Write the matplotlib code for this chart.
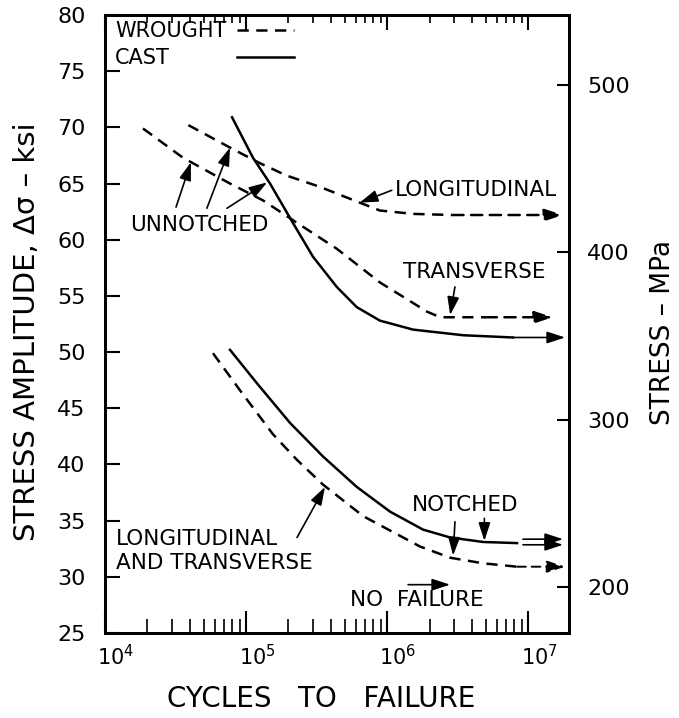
import matplotlib.pyplot as plt
import matplotlib.transforms as mtransforms
from matplotlib.lines import Line2D
from matplotlib.ticker import FixedLocator, LogLocator, NullFormatter, NullLocator

# fatigue curves, cycles vs stress amplitude (ksi)
# unnotched, wrought, longitudinal (dashed)
wl_n = [3.9e4, 7.7e4, 1.26e5, 1.95e5, 3.35e5, 6.4e5, 8.9e5, 1.53e6, 2.9e6]
wl_s = [70.2, 68.2, 66.8, 65.7, 64.7, 63.3, 62.6, 62.3, 62.2]
wl_tip = 1.77e7

# unnotched, wrought, transverse (dashed)
wt_n = [1.86e4, 3.57e4, 7.7e4, 1.32e5, 2.3e5, 4.4e5, 8.9e5, 1.92e6, 2.38e6, 5.0e6]
wt_s = [69.9, 67.3, 65.0, 63.5, 61.5, 59.2, 56.2, 53.6, 53.1, 53.1]
wt_tip = 1.5e7

# unnotched, cast (solid)
cu_n = [7.96e4, 1.12e5, 1.48e5, 2.15e5, 2.98e5, 4.4e5, 6.1e5, 8.9e5, 1.53e6, 3.46e6, 7.8e6]
cu_s = [70.9, 67.3, 65.0, 61.5, 58.5, 55.8, 54.0, 52.8, 52.0, 51.5, 51.3]
cu_tip = 1.83e7

# notched, wrought (dashed)
wn_n = [5.83e4, 9.06e4, 1.55e5, 2.3e5, 3.52e5, 6.77e5, 1.71e6, 2.8e6, 4.8e6, 8.35e6]
wn_s = [49.9, 46.6, 42.7, 40.4, 38.2, 35.4, 32.7, 31.7, 31.2, 30.9]
wn_tip = 1.83e7

# notched, cast (solid) + double run-out arrow
cn_n = [7.7e4, 1.2e5, 2.05e5, 3.52e5, 6.1e5, 1.05e6, 1.8e6, 2.8e6, 4.8e6, 8.35e6]
cn_s = [50.2, 47.2, 43.7, 40.7, 38.0, 35.8, 34.2, 33.5, 33.1, 33.0]
cn_run_n = [9.2e6, 1.77e7]
cn_run_s = [33.35, 32.85]

# no-failure arrow
nf_n = [1.41e6, 2.8e6]
nf_s = 29.3

# pointer arrows: (tail n, tail s, tip n, tip s)
ptr_tail_n = [3.19e4, 5.28e4, 7.33e4, 1.08e6, 3.03e6, 3.03e6, 4.9e6, 2.3e5]
ptr_tail_s = [62.9, 62.8, 62.8, 64.4, 55.8, 34.9, 35.2, 33.5]
ptr_tip_n = [4.07e4, 7.7e4, 1.41e5, 6.4e5, 2.8e6, 2.94e6, 4.9e6, 3.63e5]
ptr_tip_s = [66.9, 68.2, 65.1, 63.3, 53.3, 31.9, 33.2, 38.0]

labels = ['UNNOTCHED', 'LONGITUDINAL', 'TRANSVERSE', 'NOTCHED',
          'LONGITUDINAL\nAND TRANSVERSE', 'NO  FAILURE']
label_n = [4.64e4, 1.14e6, 1.3e6, 1.5e6, 1.2e4, 5.47e5]
label_s = [61.3, 64.4, 57.1, 36.4, 32.3, 27.9]
label_ha = ['center', 'left', 'left', 'left', 'left', 'left']

mpa_ticks = [200, 300, 400, 500]

DASH = (0, (4.5, 3))
LW = 1.8

fig = plt.figure(figsize=(6.79, 7.18), dpi=100)
ax = fig.add_axes([0.1546, 0.1184, 0.6834, 0.8607])

ax.plot(wl_n, wl_s, color='k', ls=DASH, lw=LW)
ax.plot(wt_n, wt_s, color='k', ls=DASH, lw=LW)
ax.plot(cu_n, cu_s, color='k', lw=LW)
ax.plot(wn_n, wn_s, color='k', ls=DASH, lw=LW)
ax.plot(cn_n, cn_s, color='k', lw=LW)


def arrow(x0, y0, x1, y1, ls='-', lw=1.2):
    ax.annotate('', xy=(x1, y1), xytext=(x0, y0),
                arrowprops=dict(arrowstyle='-|>,head_length=0.55,head_width=0.18',
                                color='k', lw=lw, ls=ls, shrinkA=0, shrinkB=0,
                                mutation_scale=20))


# run-out arrows
arrow(wl_n[-1], wl_s[-1], wl_tip, wl_s[-1], ls=DASH, lw=LW)
arrow(wt_n[-1], wt_s[-1], wt_tip, wt_s[-1], ls=DASH, lw=LW)
arrow(cu_n[-1], cu_s[-1], cu_tip, cu_s[-1])
arrow(wn_n[-1], wn_s[-1], wn_tip, wn_s[-1], ls=DASH, lw=1.4)
for s in cn_run_s:
    arrow(cn_run_n[0], s, cn_run_n[1], s)
arrow(nf_n[0], nf_s, nf_n[1], nf_s)

for x0, y0, x1, y1 in zip(ptr_tail_n, ptr_tail_s, ptr_tip_n, ptr_tip_s):
    arrow(x0, y0, x1, y1)

for t, x, y, ha in zip(labels, label_n, label_s, label_ha):
    ax.text(x, y, t, ha=ha, va='center', fontsize=15.5)

# key
blank = Line2D([], [], ls='none')
h_w = Line2D([], [], color='k', ls=DASH, lw=LW)
h_c = Line2D([], [], color='k', lw=LW)
ax.legend([blank, blank, h_w, h_c], ['WROUGHT', 'CAST', ' ', ' '], ncol=2,
          loc='upper left', bbox_to_anchor=(-0.101, 0.99), frameon=False,
          fontsize=15, handlelength=2.74, handletextpad=0, columnspacing=0.5,
          borderpad=0, borderaxespad=0, labelspacing=0.34)

ax.set_xscale('log')
ax.set_xlim(1e4, 1.95e7)
ax.set_ylim(25, 80)
ax.xaxis.set_major_locator(FixedLocator([1e4, 1e5, 1e6, 1e7]))
ax.xaxis.set_minor_locator(LogLocator(subs=range(2, 10)))
ax.xaxis.set_minor_formatter(NullFormatter())
ax.set_yticks(range(25, 81, 5))
ax.yaxis.set_minor_locator(NullLocator())
ax.tick_params(axis='x', which='major', direction='in', length=16, width=1.5,
               labelsize=15, pad=8)
ax.tick_params(axis='x', which='minor', direction='in', length=10, width=1.2)
ax.tick_params(axis='y', direction='in', length=11, width=1.5, labelsize=16, pad=14,
               right=False)
off = mtransforms.ScaledTranslation(0.11, 0, fig.dpi_scale_trans)
for lab in ax.get_xticklabels():
    lab.set_transform(lab.get_transform() + off)

top = ax.secondary_xaxis('top')
top.xaxis.set_major_locator(FixedLocator([1e4, 1e5, 1e6, 1e7]))
top.xaxis.set_minor_locator(LogLocator(subs=range(2, 10)))
top.tick_params(which='major', direction='in', length=11, width=1.5, labeltop=False)
top.tick_params(which='minor', direction='in', length=6, width=1.2)
top.xaxis.set_minor_formatter(NullFormatter())

ax.set_xlabel('CYCLES   TO   FAILURE', fontsize=20)
ax.xaxis.set_label_coords(0.466, -0.0841)
ax.set_ylabel('STRESS AMPLITUDE, Δσ – ksi', fontsize=21)
ax.yaxis.set_label_coords(-0.138, 0.487)

ax2 = ax.twinx()
ax2.set_ylim(172.5, 542)
ax2.set_yticks(mpa_ticks)
ax2.tick_params(axis='y', direction='in', length=9, width=1.5, labelsize=16, pad=13)
ax2.set_ylabel('STRESS – MPa', fontsize=19)
ax2.yaxis.set_label_coords(1.1746, 0.487)

for a in (ax, ax2, top):
    for sp in a.spines.values():
        sp.set_linewidth(2)

fig.savefig('out.png', dpi=100)
